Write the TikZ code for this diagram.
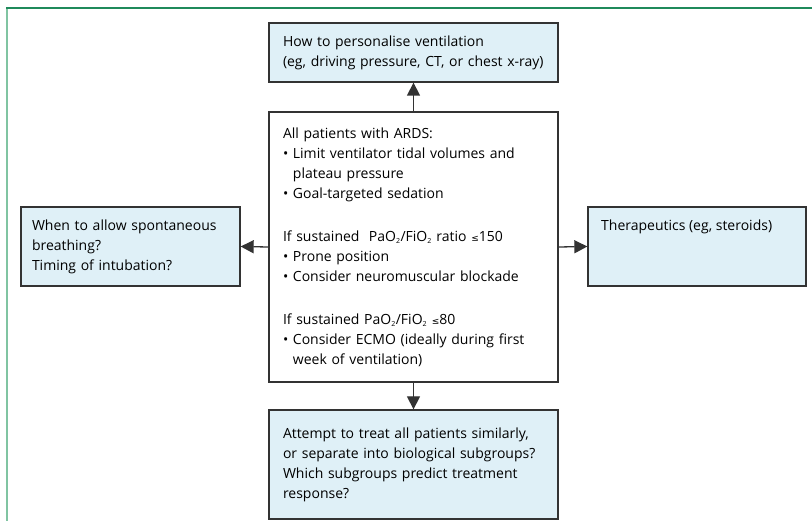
\documentclass[tikz,border=0pt]{standalone}
\usepackage{fontspec}
\setmainfont{Open Sans}
\newfontfamily\symfont{DejaVu Sans}
\usetikzlibrary{arrows.meta}
\definecolor{boxfill}{HTML}{DFF0F7}
\definecolor{boxline}{HTML}{333333}
\definecolor{frametop}{HTML}{1F8A5B}
\definecolor{frameleft}{HTML}{80C4A2}
\newcommand{\lteq}{{\symfont\small ≤}}
\newcommand{\bul}{\textbullet\ }
\newcommand{\cont}{\phantom{\textbullet\ }}
\newcommand{\two}{\textsubscript{\scriptsize 2}}
\begin{document}
\begin{tikzpicture}[x=1pt,y=-1pt,
  txt/.style={font=\fontsize{14}{20}\selectfont, text=black},
  qbox/.style={draw=boxline, line width=1.3pt, fill=boxfill, rectangle, inner sep=0pt, txt, align=left},
  wbox/.style={qbox, fill=white},
  arr/.style={draw=boxline, line width=1.3pt, -{Triangle[length=13pt,width=13pt]}}]

\useasboundingbox (0,0) rectangle (812,521);
\draw[frameleft, line width=2pt] (7,8) -- (7,521);
\draw[frametop, line width=1.6pt] (6,8) -- (812,8);

\node[qbox, minimum width=289, minimum height=59, text width=261] (top) at (413.5,52.5)
  {How to personalise ventilation\\(eg, driving pressure, CT, or chest x-ray)};

\node[wbox, minimum width=289, minimum height=270, text width=261] (mid) at (413.5,247)
  {All patients with ARDS:\\
   \bul Limit ventilator tidal volumes and\\
   \cont plateau pressure\\
   \bul Goal-targeted sedation\\[23pt]
   If sustained\ \ PaO\two/FiO\two{} ratio \lteq150\\
   \bul Prone position\\
   \bul Consider neuromuscular blockade\\[23pt]
   If sustained PaO\two/FiO\two{} \lteq80\\
   \bul Consider ECMO (ideally during first\\
   \cont week of ventilation)};

\node[qbox, minimum width=289, minimum height=109, text width=261] (bot) at (413.5,464.5)
  {Attempt to treat all patients similarly,\\
   or separate into biological subgroups?\\
   Which subgroups predict treatment\\
   response?};

\node[qbox, minimum width=219, minimum height=79, text width=197] (left) at (130.5,246.5)
  {When to allow spontaneous\\breathing?\\Timing of intubation?};

\node[qbox, minimum width=218, minimum height=79] (right) at (697,246.5) {};
\node[txt, anchor=west, inner sep=0pt] (rtext) at (601,226.5) {Therapeutics (eg, steroids)};

\draw[arr] (mid.north) -- (top.south);
\draw[arr] (mid.south) -- (bot.north);
\draw[arr] (mid.west) -- (left.east);
\draw[arr] (mid.east) -- (right.west);
\end{tikzpicture}
\end{document}
